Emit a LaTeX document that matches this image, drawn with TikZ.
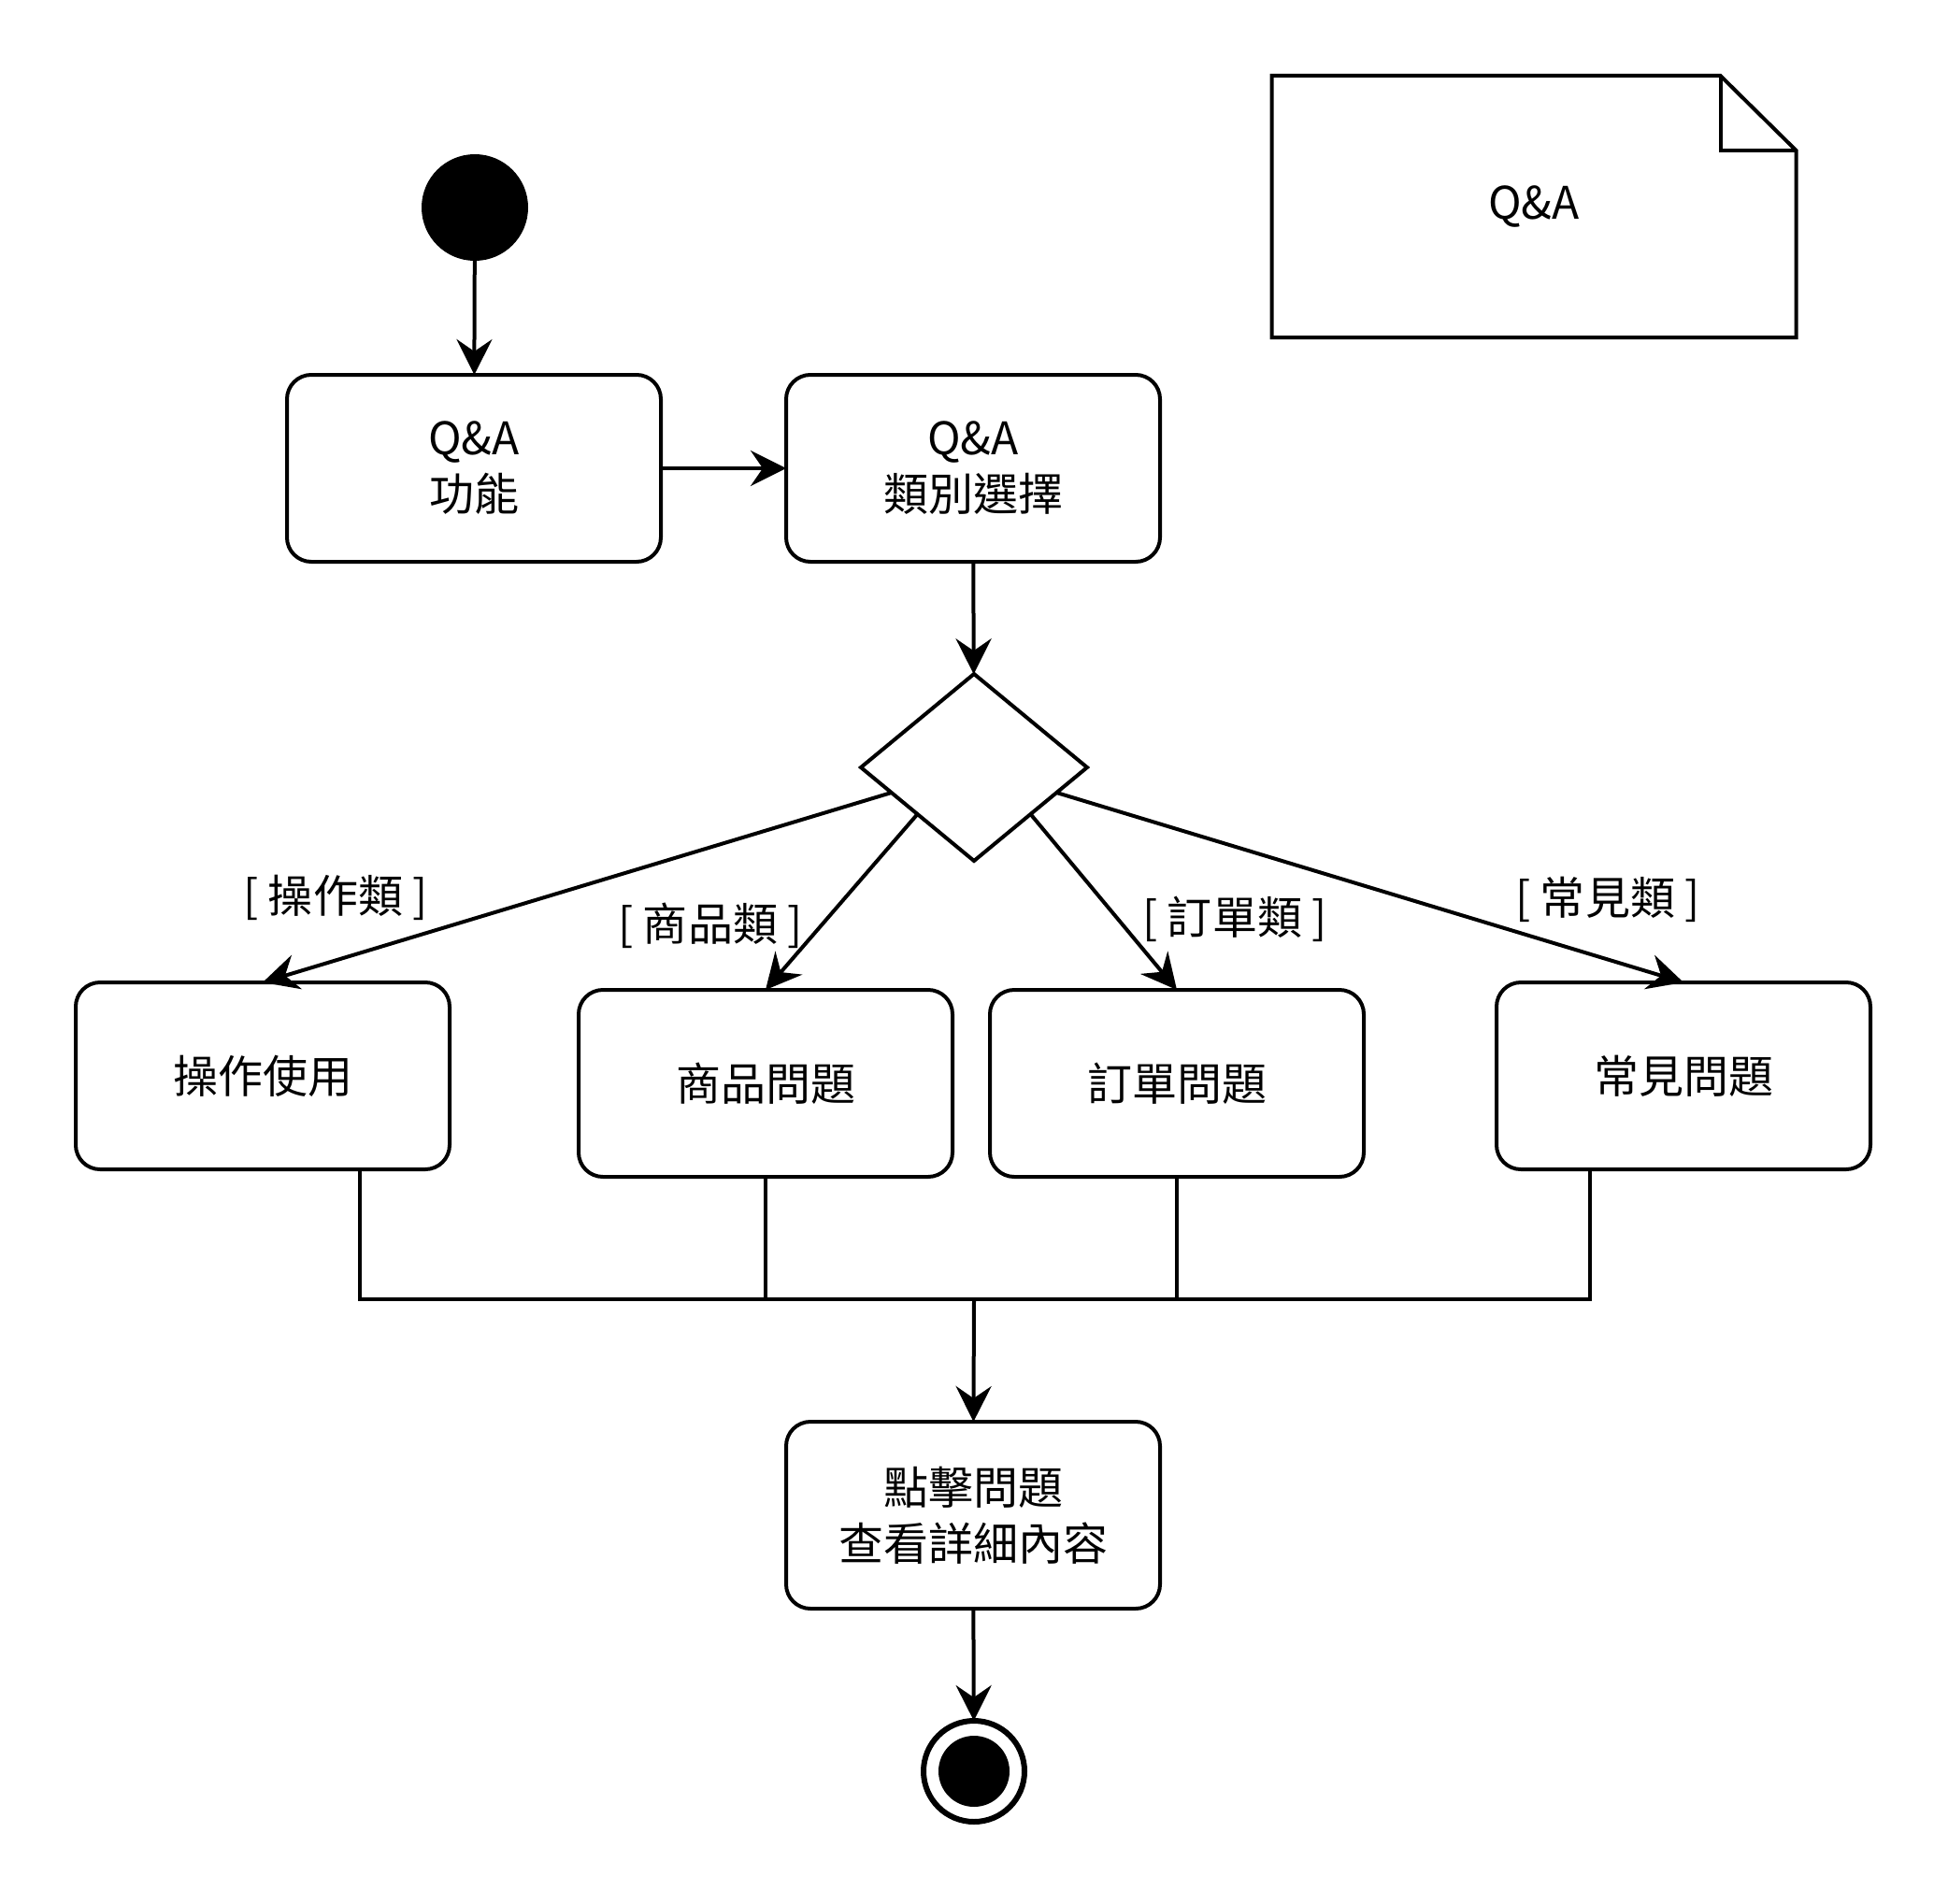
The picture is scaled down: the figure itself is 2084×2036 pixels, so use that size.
\documentclass[tikz,border=0pt]{standalone}
\usepackage{fontspec}
\setmainfont{Noto Sans CJK TC}
\usetikzlibrary{shapes.geometric,arrows.meta,calc}
\begin{document}
\begin{tikzpicture}[x=1pt,y=-1pt,
  every node/.style={font=\fontsize{48}{60}\selectfont, outer sep=0pt},
  act/.style={draw, line width=4pt, rounded corners=26pt, minimum width=400pt, minimum height=200pt, align=center, inner sep=0pt},
  conn/.style={line width=4pt},
  edge/.style={line width=4pt, -{Stealth[length=38pt,width=38pt,inset=13pt]}},
  guard/.style={inner sep=0pt}]
\useasboundingbox (0,0) rectangle (2084,2036);

% nodes
\node[circle, fill=black, minimum size=114pt, inner sep=0pt] (start) at (508,222) {};
\node[act] (qa1) at (507,501) {Q\&A\\功能};
\node[act] (qa2) at (1041,501) {Q\&A\\類別選擇};
\node[minimum width=561pt, minimum height=280pt, inner sep=0pt] (note) at (1641,221) {Q\&A};
\node[diamond, draw, line width=4pt, minimum width=242pt, minimum height=200pt, inner sep=0pt] (dec) at (1042,821) {};
\node[act] (op) at (281,1151) {操作使用};
\node[act] (prod) at (819,1159) {商品問題};
\node[act] (ord) at (1259,1159) {訂單問題};
\node[act] (faq) at (1801,1151) {常見問題};
\node[act] (click) at (1041,1621) {點擊問題\\查看詳細內容};
\node[circle, draw, line width=6pt, minimum size=108pt, inner sep=0pt] (endo) at (1042,1895) {};
\node[circle, fill=black, minimum size=76pt, inner sep=0pt] (endi) at (1042,1895) {};
\coordinate (m) at (1042,1390);

% guard labels
\node[guard] (l1) at (359,960) {[ 操作類 ]};
\node[guard] (l2) at (760,990) {[ 商品類 ]};
\node[guard] (l3) at (1321,983) {[ 訂單類 ]};
\node[guard] (l4) at (1720,962) {[ 常見類 ]};

% note shape
\draw[line width=4pt, line join=miter] (note.north west) -- ([xshift=-81pt]note.north east) -- ([yshift=-80pt]note.north east) -- (note.south east) -- (note.south west) -- cycle;
\draw[line width=4pt, line join=miter] ([xshift=-81pt]note.north east) -- ([xshift=-81pt,yshift=-80pt]note.north east) -- ([yshift=-80pt]note.north east);

% edges
\draw[edge] (start) -- (qa1);
\draw[edge] (qa1) -- (qa2);
\draw[edge] (qa2) -- (dec);
\draw[edge] ($(dec.west)!0.27!(dec.south)$) -- (op.north);
\draw[edge] ($(dec.west)!0.5!(dec.south)$) -- (prod.north);
\draw[edge] ($(dec.east)!0.5!(dec.south)$) -- (ord.north);
\draw[edge] ($(dec.east)!0.27!(dec.south)$) -- (faq.north);

\draw[conn] ([xshift=104pt]op.south) |- (m);
\draw[conn] (prod.south) |- (m);
\draw[conn] (ord.south) |- (m);
\draw[conn] ([xshift=-100pt]faq.south) |- (m);
\draw[edge] (m) -- (click);
\draw[edge] (click) -- (endo);
\end{tikzpicture}
\end{document}
